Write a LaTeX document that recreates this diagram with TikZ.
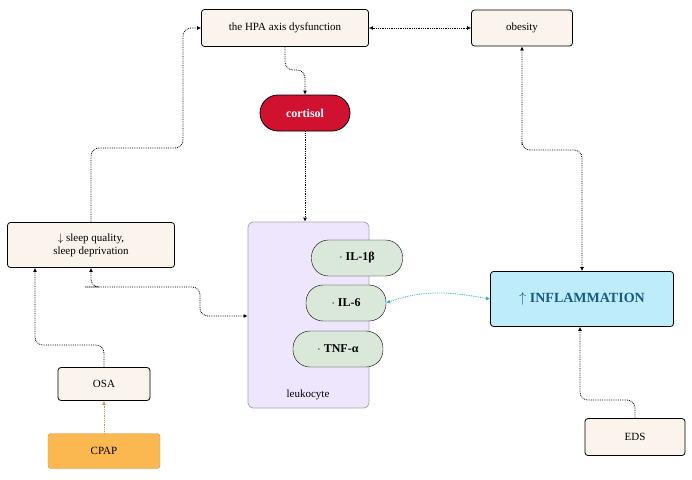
\documentclass[tikz,border=0pt]{standalone}
\usepackage{fontspec}
\setmainfont{Liberation Serif}
\usetikzlibrary{positioning,arrows.meta}
\definecolor{boxfill}{RGB}{250,244,236}
\definecolor{cellfill}{RGB}{238,230,252}
\definecolor{cellline}{RGB}{170,160,190}
\definecolor{cytofill}{RGB}{218,232,218}
\definecolor{cortred}{RGB}{208,18,48}
\definecolor{inflfill}{RGB}{190,236,250}
\definecolor{infltext}{RGB}{20,90,140}
\definecolor{cpapfill}{RGB}{252,184,80}
\definecolor{linkcyan}{RGB}{40,170,200}
\begin{document}
\begin{tikzpicture}[
		x=1pt, y=-1pt
		,box/.style={draw, thick, rounded corners=3pt, fill=boxfill, font=\fontsize{11}{13}\selectfont, align=center, inner sep=0pt}
		,cyto/.style={draw, rounded corners=17pt, fill=cytofill, font=\bfseries\fontsize{12}{14}\selectfont, minimum width=90pt, minimum height=36pt}
		,link/.style={densely dotted, thick, rounded corners=8pt, -{Latex[length=4pt,width=4pt]}}
		,both/.style={link, {Latex[length=4pt,width=4pt]}-{Latex[length=4pt,width=4pt]}}
	]
		\useasboundingbox (0,0) rectangle (692,479);

		\node[box, minimum width=167pt, minimum height=37pt] (HPA) at (285,28) {the HPA axis dysfunction};
		\node[box, minimum width=101pt, minimum height=36pt] (OB) at (522,28) {obesity};
		\node[draw, thick, fill=cortred, text=white, rounded corners=18pt, minimum width=90pt, minimum height=36pt, font=\bfseries\fontsize{12}{14}\selectfont] (CORT) at (305,113) {cortisol};
		\node[box, minimum width=167pt, minimum height=45pt] (SLEEP) at (91,245) {$\downarrow$ sleep quality,\\sleep deprivation};
		\node[draw=cellline, thick, fill=cellfill, rounded corners=5pt, minimum width=121pt, minimum height=186pt] (LEUK) at (308.5,315) {};
		\node[font=\fontsize{11}{13}\selectfont] (LEUKL) at (308,395) {leukocyte};
		\node[cyto, minimum width=91pt] (IL1) at (357,258) {$\cdot$ IL-1β};
		\node[cyto, minimum width=80pt] (IL6) at (346,303) {$\cdot$ IL-6};
		\node[cyto, minimum width=90pt] (TNF) at (338,349) {$\cdot$ TNF-α};
		\node[draw, thick, rounded corners=3pt, fill=inflfill, text=infltext, minimum width=183pt, minimum height=55pt, font=\bfseries\fontsize{14}{16}\selectfont] (INFL) at (582,299) {$\uparrow$ INFLAMMATION};
		\node[box, minimum width=92pt, minimum height=33pt] (OSA) at (104,384) {OSA};
		\node[draw=cpapfill!80!black, fill=cpapfill, rounded corners=3pt, minimum width=112pt, minimum height=35pt, font=\fontsize{11}{13}\selectfont] (CPAP) at (104,451) {CPAP};
		\node[box, minimum width=100pt, minimum height=37pt] (EDS) at (635,437) {EDS};

		\coordinate (up) at (183,148);
		\coordinate (mid) at (305,70);
		\coordinate (low) at (93,287);
		\coordinate (osaup) at (35,345);
		\coordinate (obdn) at (522,150);
		\coordinate (edsup) at (580,400);

		\draw[link] (SLEEP.north) |- (up) |- (HPA.west);
		\draw[both] (HPA.east) -- (OB.west);
		\draw[link] (HPA.south) |- (mid) -- (CORT.north);
		\draw[link] (CORT.south) -- (CORT.south |- LEUK.north);
		\draw[both] (SLEEP.south) |- (low) -| (200,316) -- (LEUK.west |- 0,316);
		\draw[link] (OSA.north) |- (osaup) -- (osaup |- SLEEP.south);
		\draw[link, cpapfill!80!black] (CPAP.north) -- (OSA.south);
		\draw[both] (OB.south) |- (obdn) -| (INFL.north);
		\draw[both, linkcyan] (IL6.east) to[out=20, in=170] (INFL.west);
		\draw[link] (EDS.north) |- (edsup) -- (edsup |- INFL.south);
	\end{tikzpicture}
\end{document}
